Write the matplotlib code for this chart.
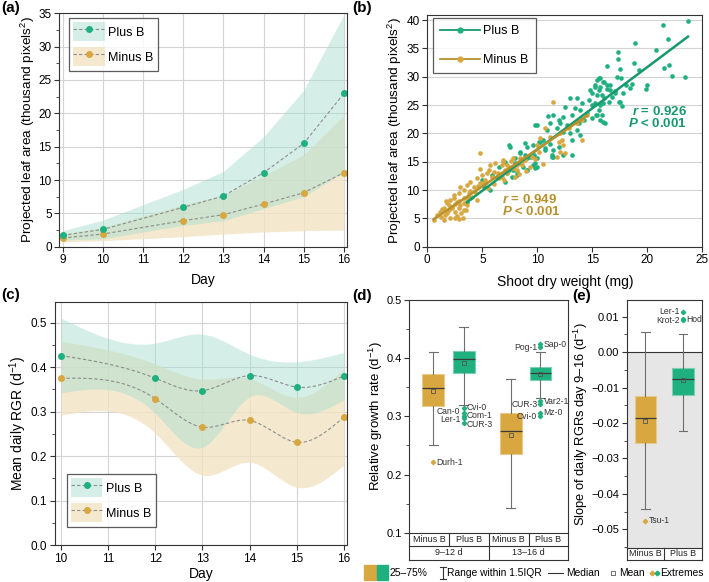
"""Leaf area, RGR and boxplot panels, Plus B vs Minus B."""

import matplotlib
matplotlib.use("Agg")
import matplotlib.pyplot as plt
import numpy as np
from matplotlib.lines import Line2D
from matplotlib.patches import Patch, Rectangle
from matplotlib.ticker import MultipleLocator, FuncFormatter

plt.rcParams["font.family"] = ["Liberation Sans", "DejaVu Sans"]
plt.rcParams["mathtext.fontset"] = "custom"
plt.rcParams["mathtext.rm"] = "Liberation Sans"
plt.rcParams["mathtext.it"] = "Liberation Sans:italic:bold"
plt.rcParams["mathtext.bf"] = "Liberation Sans:bold"

GREEN = "#1fb07f"
GREEN_DARK = "#17996c"
GOLD = "#d8a73f"
GOLD_DARK = "#b8912d"
TEAL_BAND = "#a3ddcd"
BEIGE_BAND = "#f2e4c4"
EDGE = "#333333"

# ---- (a) projected leaf area per day
days_a = [9, 10, 12, 13, 14, 15, 16]
plus_a_mean = [1.7, 2.6, 5.9, 7.6, 11.1, 15.5, 23.0]
plus_a_sd = [0.7, 1.4, 2.7, 3.7, 5.4, 8.0, 11.8]
minus_a_mean = [1.3, 1.9, 3.9, 4.8, 6.4, 8.1, 11.1]
minus_a_sd = [0.6, 1.0, 2.4, 2.9, 4.2, 5.7, 8.6]

# ---- (b) leaf area vs shoot dry weight
plus_b_x = [
    23.7, 21.4, 21.9, 18.9, 20.8, 17.35, 17.35, 18.8, 16.3, 19.2, 21.96, 21.5,
    17.5, 22.2, 23.45, 17.2, 17.6, 15.7, 15.4, 16.0, 16.6, 18.1, 18.6, 19.96,
    19.9, 18.4, 15.2, 15.6, 16.3, 17.1, 17.8, 14.96, 15.9, 16.8, 17.5, 17.7,
    15.2, 16.0, 15.6, 15.9, 16.0, 14.96, 15.3,
    15.57, 16.02, 16.33, 15.72, 15.26, 14.81, 16.63, 17.08, 15.42, 16.02, 16.48,
    17.39, 14.66, 14.05, 14.96, 15.72, 13.44, 13.9, 12.99, 13.6, 12.53, 13.14,
    14.51, 15.42, 15.72, 16.18, 14.2, 13.75, 12.38, 11.93, 12.08, 12.69, 11.47,
    11.78, 12.38, 12.99, 13.6, 13.9, 13.14, 11.17, 10.87, 9.8, 10.56, 10.11,
    11.17, 11.47, 11.93, 9.65, 9.05, 8.44, 8.9, 9.35, 9.96, 10.71, 11.47, 7.53,
    7.98, 8.44, 8.74, 9.05, 9.65, 9.8, 7.83, 7.23, 7.68, 8.14, 11.32, 12.38,
    13.14,
    7.4, 8.92, 10.28, 10.74, 8.46, 9.07, 9.83, 9.98, 8.01, 8.16, 7.1, 6.49, 7.4,
    5.73, 5.13, 4.97, 3.61, 3.91, 5.88, 6.34, 9.07, 9.68, 11.34, 7.1, 5.28,
    10.0, 11.0,
]
plus_b_y = [
    39.8, 39.1, 36.7, 35.9, 34.8, 34.4, 33.1, 32.4, 31.9, 31.2, 32.1, 31.6,
    31.3, 30.2, 30.0, 30.0, 29.7, 29.7, 29.4, 29.1, 28.5, 28.5, 28.7, 28.5,
    27.8, 28.1, 28.2, 27.7, 27.8, 27.4, 27.1, 27.1, 26.8, 26.5, 25.5, 24.9,
    25.3, 25.3, 24.1, 23.2, 22.1, 22.7, 23.2,
    29.71, 29.12, 28.53, 28.24, 28.53, 27.65, 27.65, 27.06, 26.77, 26.18, 25.59,
    25.59, 25.89, 25.3, 25.0, 25.0, 24.4, 24.1, 26.18, 26.18, 24.7, 23.24,
    23.53, 23.24, 22.36, 21.77, 22.36, 21.77, 22.95, 22.36, 21.77, 21.48, 23.24,
    20.89, 20.3, 20.0, 20.6, 19.7, 18.8, 21.77, 20.6, 21.48, 18.8, 18.5,
    18.2, 17.07, 17.66, 17.95, 17.66, 16.77, 16.18, 15.89, 15.6, 17.07, 15.89,
    17.66, 15.6, 14.71, 14.12, 13.53, 14.42, 13.83, 13.53, 12.95, 12.36, 12.65,
    15.77, 16.18, 16.18,
    17.95, 18.36, 18.54, 17.36, 16.48, 15.6, 14.71, 14.12, 14.71, 13.24, 11.48,
    14.12, 13.54, 10.0, 10.6, 11.77, 7.95, 8.54, 12.65, 12.36, 13.54, 16.18,
    16.18, 15.01, 11.18, 21.5, 23.0,
]
minus_b_x = [
    11.47, 10.71, 11.17, 11.93, 12.23, 12.38, 12.53, 12.08, 10.26, 9.96, 10.11,
    9.5, 8.9, 8.44, 7.83, 6.92, 7.23, 7.68, 8.14, 8.59, 9.35, 7.07, 6.77, 7.98,
    14.51, 14.05, 13.6, 12.84, 12.08, 14.1,
    4.76, 5.73, 6.19, 6.79, 7.4, 7.86, 6.04, 5.43, 5.88, 6.49, 4.52, 4.82, 4.22,
    3.61, 3.31, 2.85, 3.76, 4.07, 4.37, 2.4, 2.09, 2.7, 3.0, 1.79, 2.24, 1.49,
    1.94, 2.55, 2.85, 1.18, 1.64, 2.09, 2.55, 0.88, 0.58, 3.31, 5.28, 6.95,
    7.25, 8.16, 8.61, 3.91, 4.97, 4.52, 3.31, 3.61,
    1.2, 1.5, 1.8, 2.2, 2.5, 2.9, 3.3, 3.6, 2.0, 1.3, 2.7, 3.1, 3.5, 1.7, 2.4,
    3.0, 3.9, 4.6, 5.1, 5.5, 6.1, 4.8, 5.6, 6.4, 6.9, 7.6, 8.3, 9.0, 9.8, 10.5,
    11.8, 2.9, 3.2,
]
minus_b_y = [
    25.59, 20.89, 19.42, 18.53, 18.83, 17.95, 16.48, 16.77, 19.12, 17.95, 16.77,
    15.89, 15.3, 15.6, 15.6, 15.3, 14.42, 13.83, 13.53, 14.42, 14.12, 13.53,
    12.36, 12.36, 23.24, 22.36, 21.77, 20.89, 20.0, 18.8,
    16.48, 14.42, 14.71, 14.42, 14.12, 13.83, 13.24, 12.95, 12.36, 12.07, 12.07,
    11.18, 10.6, 10.89, 10.0, 9.42, 9.42, 8.83, 9.71, 8.54, 8.24, 7.95, 7.36,
    7.66, 7.07, 6.77, 6.48, 6.18, 6.77, 6.18, 5.6, 5.01, 5.01, 5.6, 4.71, 8.54,
    11.77, 11.77, 12.95, 14.42, 15.01, 11.48, 12.65, 8.24, 6.48, 7.36,
    5.3, 4.8, 5.9, 6.9, 7.6, 8.0, 7.8, 8.6, 7.4, 6.6, 5.5, 5.9, 6.5, 8.0, 9.1,
    10.5, 9.9, 10.8, 11.3, 10.4, 11.0, 13.8, 13.5, 13.0, 14.9, 15.2, 12.9,
    13.4, 15.5, 14.6, 15.9, 4.9, 5.0,
]
plus_b_fit = (1.455, 2.6)
minus_b_fit = (1.31, 4.1)
plus_b_stats = ["$r$ = 0.926", "$P$ < 0.001"]
minus_b_stats = ["$r$ = 0.949", "$P$ < 0.001"]

# ---- (c) mean daily RGR
days_c = [10, 12, 13, 14, 15, 16]
plus_c_mean = [0.426, 0.375, 0.347, 0.381, 0.355, 0.380]
plus_c_sd = [0.084, 0.079, 0.127, 0.048, 0.057, 0.053]
minus_c_mean = [0.375, 0.329, 0.265, 0.280, 0.231, 0.288]
minus_c_sd = [0.083, 0.078, 0.108, 0.094, 0.101, 0.108]

# ---- (d) relative growth rate boxes
d_cells = ["Minus B", "Plus B", "Minus B", "Plus B"]
d_periods = ["9\u201312 d", "13\u201316 d"]
d_whislo = [0.250, 0.320, 0.143, 0.331]
d_q1 = [0.318, 0.374, 0.236, 0.363]
d_med = [0.348, 0.398, 0.274, 0.374]
d_mean = [0.344, 0.391, 0.268, 0.373]
d_q3 = [0.372, 0.412, 0.305, 0.385]
d_whishi = [0.411, 0.453, 0.365, 0.411]
d_out_box = [0, 1, 1, 1, 1, 1, 3, 3, 3, 3, 3, 3]
d_out_val = [0.221, 0.314, 0.305, 0.300, 0.297, 0.288,
             0.419, 0.424, 0.321, 0.326, 0.300, 0.306]
d_out_name = ["Durh-1", "Cvi-0", "Can-0", "Com-1", "Ler-1", "CUR-3",
              "Pog-1", "Sap-0", "CUR-3", "Var2-1", "Cvi-0", "Mz-0"]
d_out_side = ["r", "r", "l", "r", "l", "r", "l", "r", "l", "r", "l", "r"]

# ---- (e) slope of daily RGRs
e_cells = ["Minus B", "Plus B"]
e_whislo = [-0.0443, -0.0224]
e_q1 = [-0.0256, -0.0120]
e_med = [-0.0185, -0.0076]
e_mean = [-0.0194, -0.0080]
e_q3 = [-0.0125, -0.0045]
e_whishi = [0.0057, 0.0052]
e_out_box = [0, 1, 1, 1]
e_out_val = [-0.0476, 0.0114, 0.0090, 0.0092]
e_out_name = ["Tsu-1", "Ler-1", "Krot-2", "Hod"]
e_out_side = ["r", "l", "l", "r"]

W, H = 709, 582


def px_axes(fig, left, top, right, bottom):
    """Add axes given pixel edges (origin top-left)."""
    return fig.add_axes([left / W, 1 - bottom / H, (right - left) / W, (bottom - top) / H])


def natural_spline(x, y, num=300):
    """Smooth curve through points (natural cubic spline), for drawing only."""
    x = np.asarray(x, float)
    y = np.asarray(y, float)
    n = len(x)
    h = np.diff(x)
    A = np.zeros((n, n))
    b = np.zeros(n)
    A[0, 0] = A[-1, -1] = 1
    for i in range(1, n - 1):
        A[i, i - 1] = h[i - 1]
        A[i, i] = 2 * (h[i - 1] + h[i])
        A[i, i + 1] = h[i]
        b[i] = 3 * ((y[i + 1] - y[i]) / h[i] - (y[i] - y[i - 1]) / h[i - 1])
    c = np.linalg.solve(A, b)
    xs = np.linspace(x[0], x[-1], num)
    idx = np.clip(np.searchsorted(x, xs) - 1, 0, n - 2)
    dx = xs - x[idx]
    bc = (y[1:] - y[:-1]) / h - h * (2 * c[:-1] + c[1:]) / 3
    dc = (c[1:] - c[:-1]) / (3 * h)
    return xs, y[idx] + bc[idx] * dx + c[idx] * dx ** 2 + dc[idx] * dx ** 3


def style_axes(ax, labelsize=8.5):
    for sp in ax.spines.values():
        sp.set_color(EDGE)
        sp.set_linewidth(0.8)
    ax.tick_params(direction="out", length=3.5, width=0.8, color=EDGE,
                   labelsize=labelsize, pad=2)
    ax.tick_params(which="minor", direction="out", length=2, width=0.6, color=EDGE)


def band_legend(ax, **kw):
    handles = [
        (Patch(facecolor=TEAL_BAND, alpha=0.45, edgecolor="none"),
         Line2D([], [], color="#8c8c8c", ls=(0, (3, 2)), lw=0.8, marker="o",
                ms=4, mfc=GREEN, mec=GREEN)),
        (Patch(facecolor=BEIGE_BAND, alpha=0.8, edgecolor="none"),
         Line2D([], [], color="#8c8c8c", ls=(0, (3, 2)), lw=0.8, marker="o",
                ms=4, mfc=GOLD, mec=GOLD)),
    ]
    leg = ax.legend(handles, ["Plus B", "Minus B"], fontsize=9, frameon=True,
                    fancybox=False, edgecolor=EDGE, handlelength=2.5,
                    handleheight=1.95, labelspacing=0.5, handletextpad=0.3,
                    borderpad=0.35, borderaxespad=0, **kw)
    leg.get_frame().set_linewidth(0.9)
    return leg


def draw_series(ax, x, mean, sd, color, band, alpha, smooth):
    mean = np.asarray(mean)
    sd = np.asarray(sd)
    if smooth:
        xs, lo = natural_spline(x, mean - sd)
        _, hi = natural_spline(x, mean + sd)
        _, ms = natural_spline(x, mean)
    else:
        xs, lo, hi, ms = x, mean - sd, mean + sd, mean
    ax.fill_between(xs, lo, hi, color=band, alpha=alpha, lw=0)
    ax.plot(xs, ms, color="#8c8c8c", ls=(0, (3, 2)), lw=0.8)
    ax.plot(x, mean, ls="none", marker="o", ms=4, color=color)


def draw_boxes(ax, pos, whislo, q1, med, mean, q3, whishi, colors, width):
    stats = []
    for i in range(len(pos)):
        stats.append(dict(whislo=whislo[i], q1=q1[i], med=med[i], mean=mean[i],
                          q3=q3[i], whishi=whishi[i], fliers=[]))
    bp = ax.bxp(stats, positions=pos, widths=width, capwidths=width * 0.4,
                patch_artist=True, showmeans=True, showfliers=False,
                medianprops=dict(color="#3a3a3a", lw=0.9),
                meanprops=dict(marker="s", ms=2.5, mfc="none", mec="#555555", mew=0.6),
                whiskerprops=dict(color="#6e6e6e", lw=0.8),
                capprops=dict(color="#6e6e6e", lw=0.8),
                boxprops=dict(lw=0.8))
    for patch, c in zip(bp["boxes"], colors):
        patch.set_facecolor(c)
        patch.set_edgecolor(matplotlib.colors.to_hex(
            0.6 * np.array(matplotlib.colors.to_rgb(c)) + 0.4))
        patch.set_zorder(2)


def spread_labels(vals, gap):
    """Push label heights apart so neighbours keep at least `gap` between them."""
    order = np.argsort(vals)
    ys = np.array(vals, float)[order]
    for _ in range(20):
        for k in range(1, len(ys)):
            d = ys[k] - ys[k - 1]
            if d < gap:
                shift = (gap - d) / 2
                ys[k] += shift
                ys[k - 1] -= shift
    out = np.empty_like(ys)
    out[order] = ys
    return out


def draw_outliers(ax, pos, box_idx, vals, names, sides, colors, dx, gap):
    label_y = np.array(vals, float)
    for b in set(box_idx):
        for s in ("l", "r"):
            sel = [i for i in range(len(vals)) if box_idx[i] == b and sides[i] == s]
            if len(sel) > 1:
                label_y[sel] = spread_labels([vals[i] for i in sel], gap)
    for i, (b, v, name, side) in enumerate(zip(box_idx, vals, names, sides)):
        x = pos[b]
        ax.plot(x, v, ls="none", marker="D", ms=2.2, color=colors[b], zorder=4)
        if side == "r":
            ax.text(x + dx, label_y[i], name, fontsize=6.2, ha="left", va="center",
                    color="#333333")
        else:
            ax.text(x - dx, label_y[i], name, fontsize=6.2, ha="right", va="center",
                    color="#333333")


def draw_table(ax, top_cells, bottom_cells, row_px):
    axh = ax.get_position().height * H
    r1 = -row_px / axh
    r2 = -2 * row_px / axh
    kw = dict(transform=ax.transAxes, clip_on=False, color=EDGE, lw=0.8)
    n = len(top_cells)
    ax.plot([0, 1], [r1, r1], **kw)
    for i in range(n + 1):
        ax.plot([i / n, i / n], [0, r1], **kw)
    for i, lab in enumerate(top_cells):
        ax.text((i + 0.5) / n, r1 / 2, lab, transform=ax.transAxes, ha="center",
                va="center", fontsize=6.5, color="#222222")
    if bottom_cells:
        m = len(bottom_cells)
        ax.plot([0, 1], [r2, r2], **kw)
        for j in range(m + 1):
            ax.plot([j / m, j / m], [r1, r2], **kw)
        for j, lab in enumerate(bottom_cells):
            ax.text((j + 0.5) / m, (r1 + r2) / 2, lab, transform=ax.transAxes,
                    ha="center", va="center", fontsize=6.5, color="#222222")


fig = plt.figure(figsize=(W / 100, H / 100), dpi=100)

# ---------------- (a)
ax_a = px_axes(fig, 59.3, 13.3, 347, 246.7)
style_axes(ax_a)
draw_series(ax_a, days_a, minus_a_mean, minus_a_sd, GOLD, BEIGE_BAND, 0.8, False)
draw_series(ax_a, days_a, plus_a_mean, plus_a_sd, GREEN, TEAL_BAND, 0.45, False)
ax_a.set_xlim(8.915, 16.075)
ax_a.set_ylim(0, 35)
ax_a.set_xticks(range(9, 17))
ax_a.yaxis.set_major_locator(MultipleLocator(5))
ax_a.yaxis.set_minor_locator(MultipleLocator(2.5))
ax_a.grid(True, color="#d4d4d4", lw=0.8)
ax_a.set_axisbelow(True)
ax_a.set_xlabel("Day", fontsize=10, labelpad=5)
ax_a.set_ylabel("Projected leaf area (thousand pixels$^{2}$)", fontsize=9.7, labelpad=1)
band_legend(ax_a, loc="upper left", bbox_to_anchor=(0.034, 0.98))

# ---------------- (b)
ax_b = px_axes(fig, 427.3, 15, 702.3, 246.7)
style_axes(ax_b)
ax_b.grid(True, axis="y", color="#d4d4d4", lw=0.8)
ax_b.set_axisbelow(True)
ax_b.scatter(plus_b_x, plus_b_y, s=11, color=GREEN, lw=0, zorder=2)
ax_b.scatter(minus_b_x, minus_b_y, s=11, color=GOLD, lw=0, zorder=2)
for xs_, fit, col in ((plus_b_x, plus_b_fit, GREEN_DARK), (minus_b_x, minus_b_fit, GOLD_DARK)):
    xl = np.array([min(xs_), max(xs_)])
    ax_b.plot(xl, fit[0] * xl + fit[1], color=col, lw=1.8, zorder=3)
ax_b.set_xlim(0, 25)
ax_b.set_ylim(0, 40.9)
ax_b.xaxis.set_major_locator(MultipleLocator(5))
ax_b.yaxis.set_major_locator(MultipleLocator(5))
ax_b.set_xlabel("Shoot dry weight (mg)", fontsize=10, labelpad=6)
ax_b.set_ylabel("Projected leaf area (thousand pixels$^{2}$)", fontsize=9.7, labelpad=1.5)
hb = [Line2D([], [], color=GREEN_DARK, lw=1.3, marker="o", ms=3.5, mfc=GREEN, mec=GREEN),
      Line2D([], [], color=GOLD_DARK, lw=1.3, marker="o", ms=3.5, mfc=GOLD, mec=GOLD)]
leg_b = ax_b.legend(hb, ["Plus B", "Minus B"], loc="upper left",
                    bbox_to_anchor=(0.02, 0.985), fontsize=9, fancybox=False,
                    edgecolor=EDGE, handlelength=3.2, labelspacing=1.35,
                    handletextpad=0.3, borderpad=0.55, borderaxespad=0)
leg_b.get_frame().set_linewidth(0.9)
ax_b.text(23.6, 23.8, plus_b_stats[0], ha="right", va="center", fontsize=9.5,
          fontweight="bold", color=GREEN_DARK)
ax_b.text(23.6, 21.7, plus_b_stats[1], ha="right", va="center", fontsize=9.5,
          fontweight="bold", color=GREEN_DARK)
ax_b.text(6.8, 8.4, minus_b_stats[0], ha="left", va="center", fontsize=9.5,
          fontweight="bold", color=GOLD_DARK)
ax_b.text(6.8, 6.3, minus_b_stats[1], ha="left", va="center", fontsize=9.5,
          fontweight="bold", color=GOLD_DARK)

# ---------------- (c)
ax_c = px_axes(fig, 55, 301.7, 347.3, 545)
style_axes(ax_c)
draw_series(ax_c, days_c, minus_c_mean, minus_c_sd, GOLD, BEIGE_BAND, 0.8, True)
draw_series(ax_c, days_c, plus_c_mean, plus_c_sd, GREEN, TEAL_BAND, 0.45, True)
ax_c.set_xlim(9.873, 16.07)
ax_c.set_ylim(0, 0.547)
ax_c.set_xticks(range(10, 17))
ax_c.yaxis.set_major_locator(MultipleLocator(0.1))
ax_c.yaxis.set_minor_locator(MultipleLocator(0.05))
ax_c.yaxis.set_major_formatter(FuncFormatter(lambda v, _: f"{v:.1f}"))
ax_c.grid(True, color="#d4d4d4", lw=0.8)
ax_c.set_axisbelow(True)
ax_c.set_xlabel("Day", fontsize=10, labelpad=2)
ax_c.set_ylabel("Mean daily RGR (d$^{-1}$)", fontsize=10, labelpad=1.5)
band_legend(ax_c, loc="lower left", bbox_to_anchor=(0.04, 0.075))

# ---------------- (d)
ax_d = px_axes(fig, 409.3, 300, 568.3, 532.7)
style_axes(ax_d, 8)
d_pos = [0.6, 1.37, 2.55, 3.3]
d_colors = [GOLD, GREEN, GOLD, GREEN]
draw_boxes(ax_d, d_pos, d_whislo, d_q1, d_med, d_mean, d_q3, d_whishi, d_colors, 0.55)
draw_outliers(ax_d, d_pos, d_out_box, d_out_val, d_out_name, d_out_side, d_colors,
              0.08, 0.0142)
ax_d.set_xlim(0, 4)
ax_d.set_ylim(0.1, 0.5)
ax_d.set_xticks([])
ax_d.yaxis.set_major_locator(MultipleLocator(0.1))
ax_d.yaxis.set_minor_locator(MultipleLocator(0.05))
ax_d.set_ylabel("Relative growth rate (d$^{-1}$)", fontsize=9.5, labelpad=1)
draw_table(ax_d, d_cells, d_periods, 13.4)

# ---------------- (e)
ax_e = px_axes(fig, 626.7, 300, 701.7, 548)
style_axes(ax_e, 8)
ax_e.set_ylim(-0.0553, 0.0147)
ax_e.set_xlim(0.5, 2.5)
ax_e.axhspan(-0.0553, 0, color="#e6e6e6", lw=0, zorder=0)
ax_e.axhline(0, color=EDGE, lw=0.8, zorder=1)
e_pos = [1, 2]
e_colors = [GOLD, GREEN]
draw_boxes(ax_e, e_pos, e_whislo, e_q1, e_med, e_mean, e_q3, e_whishi, e_colors, 0.57)
draw_outliers(ax_e, e_pos, e_out_box, e_out_val, e_out_name, e_out_side, e_colors,
              0.08, 0.0024)
ax_e.set_xticks([])
ax_e.yaxis.set_major_locator(MultipleLocator(0.01))
ax_e.yaxis.set_minor_locator(MultipleLocator(0.005))
ax_e.yaxis.set_major_formatter(FuncFormatter(
    lambda v, _: "0.00" if abs(v) < 1e-9 else f"{v:.2f}".replace("-", "\u2212")))
ax_e.set_ylabel("Slope of daily RGRs day 9\u201316 (d$^{-1}$)", fontsize=9.3, labelpad=1)
draw_table(ax_e, e_cells, None, 11.5)

# ---------------- panel letters
for lab, x, y in (("(a)", 1, 1), ("(b)", 352, 1), ("(c)", 1, 288), ("(d)", 352, 289),
                  ("(e)", 572, 289)):
    fig.text(x / W, 1 - y / H, lab, fontsize=11, fontweight="bold", va="top", ha="left")

# ---------------- box legend at the bottom
yc = 572.5
fig.patches.append(Rectangle((363.5 / W, 1 - 580 / H), 12.5 / W, 15.5 / H,
                             transform=fig.transFigure, color=GOLD))
fig.patches.append(Rectangle((377.5 / W, 1 - 580 / H), 10.5 / W, 15.5 / H,
                             transform=fig.transFigure, color=GREEN))
fig.text(389 / W, 1 - yc / H, "25\u201375%", fontsize=7.4, va="center")
for xs_, ys_ in (([442.5, 442.5], [566.5, 578.5]), ([439.5, 445.5], [566.5, 566.5]),
                 ([439.5, 445.5], [578.5, 578.5]), ([548, 563], [yc, yc])):
    fig.add_artist(Line2D([x / W for x in xs_], [1 - y / H for y in ys_],
                          color="#333333", lw=0.8))
fig.text(447 / W, 1 - yc / H, "Range within 1.5IQR", fontsize=7.4, va="center")
fig.text(566 / W, 1 - yc / H, "Median", fontsize=7.4, va="center")
fig.add_artist(Line2D([613.3 / W], [1 - yc / H], marker="s", ms=3, mfc="none",
                      mec="#555555", mew=0.6))
fig.text(619 / W, 1 - yc / H, "Mean", fontsize=7.4, va="center")
fig.add_artist(Line2D([651.7 / W], [1 - yc / H], marker="D", ms=2.4, color=GOLD, ls="none"))
fig.add_artist(Line2D([656.7 / W], [1 - yc / H], marker="D", ms=2.4, color=GREEN, ls="none"))
fig.text(660 / W, 1 - yc / H, "Extremes", fontsize=7.4, va="center")

fig.savefig("out.png", dpi=100)
